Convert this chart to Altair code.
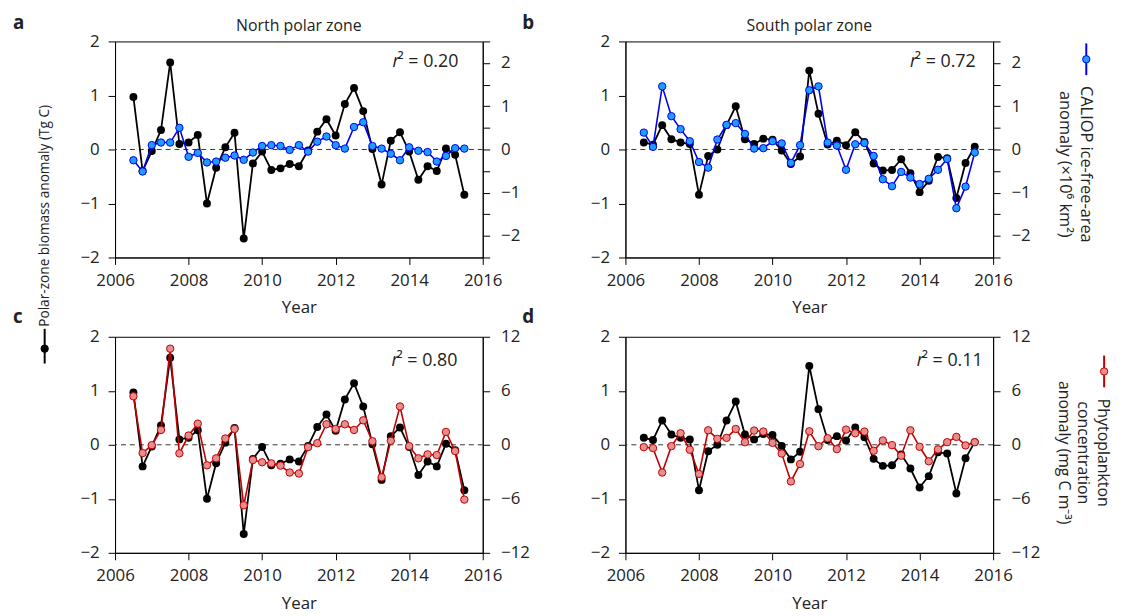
import altair as alt
import pandas as pd

FONT = "Open Sans"
TXT = "#222222"

# ---------------- data ----------------
years = [2006.5, 2006.75, 2007.0, 2007.25, 2007.5, 2007.75, 2008.0, 2008.25, 2008.5,
         2008.75, 2009.0, 2009.25, 2009.5, 2009.75, 2010.0, 2010.25, 2010.5, 2010.75,
         2011.0, 2011.25, 2011.5, 2011.75, 2012.0, 2012.25, 2012.5, 2012.75, 2013.0,
         2013.25, 2013.5, 2013.75, 2014.0, 2014.25, 2014.5, 2014.75, 2015.0, 2015.25,
         2015.5]

north_biomass = [0.97, -0.40, -0.03, 0.36, 1.61, 0.10, 0.13, 0.27, -1.00, -0.34, 0.04,
                 0.31, -1.65, -0.26, -0.04, -0.38, -0.35, -0.27, -0.31, -0.02, 0.33, 0.56,
                 0.26, 0.84, 1.14, 0.71, 0.01, -0.65, 0.16, 0.32, -0.04, -0.56, -0.31,
                 -0.40, 0.02, -0.10, -0.84]

north_ice = [-0.25, -0.51, 0.10, 0.16, 0.16, 0.50, -0.17, -0.08, -0.30, -0.28, -0.19,
             -0.14, -0.24, -0.07, 0.08, 0.10, 0.08, -0.01, 0.10, -0.05, 0.18, 0.30, 0.10,
             0.02, 0.52, 0.63, 0.08, 0.02, -0.10, -0.25, 0.05, -0.03, -0.06, -0.28, -0.15,
             0.03, 0.02]

north_phyto = [5.39, -0.92, -0.04, 1.65, 10.68, -0.95, 1.03, 2.35, -2.28, -1.50, 0.70,
               1.76, -6.72, -1.69, -1.94, -2.06, -2.31, -3.08, -3.19, -0.26, 0.18, 2.28,
               1.76, 2.28, 1.65, 2.72, 0.40, -3.60, 0.44, 4.26, -0.15, -1.50, -1.06, -1.14,
               1.43, -0.70, -6.09]

south_biomass = [0.13, 0.09, 0.45, 0.19, 0.13, 0.10, -0.84, -0.12, 0.00, 0.45, 0.80, 0.19,
                 0.10, 0.20, 0.18, -0.02, -0.27, -0.13, 1.46, 0.66, 0.09, 0.16, 0.08, 0.32,
                 0.14, -0.26, -0.39, -0.38, -0.18, -0.44, -0.79, -0.58, -0.14, -0.16, -0.90,
                 -0.25, 0.05]

south_ice = [0.39, 0.06, 1.46, 0.77, 0.47, 0.19, -0.29, -0.42, 0.23, 0.57, 0.61, 0.36,
             0.02, 0.03, 0.19, 0.14, -0.31, 0.10, 1.37, 1.46, 0.16, 0.09, -0.47, 0.12, 0.15,
             -0.15, -0.69, -0.85, -0.52, -0.65, -0.80, -0.68, -0.47, -0.22, -1.36, -0.86,
             -0.07]

south_phyto = [-0.26, -0.37, -3.08, -0.15, 1.28, -0.55, -3.23, 1.61, 0.66, 0.77, 1.76, 0.29,
               1.58, 1.47, 0.22, -0.97, -4.07, -2.13, 1.50, -0.15, 0.73, -0.48, 1.69, 1.28,
               1.47, -0.66, 0.48, -0.04, -1.21, 1.61, -0.22, -1.83, -0.51, 0.29, 0.88, -0.07,
               0.29]

x_ticks = [2006, 2008, 2010, 2012, 2014, 2016]
left_ticks = [-2, -1, 0, 1, 2]
ice_ticks = [-2.5, -2, -1.5, -1, -0.5, 0, 0.5, 1, 1.5, 2, 2.5]
phyto_ticks = [-12, -6, 0, 6, 12]

titles = ["North polar zone", "South polar zone"]
letters = ["a", "b", "c", "d"]
r2_values = ["0.20", "0.72", "0.80", "0.11"]

BLUE_LINE, BLUE_FILL = "#0000f0", "#1e9cff"
RED_LINE, RED_FILL = "#c00000", "#e58e8e"

W, H = 371, 218
one = pd.DataFrame({"k": [0]})


def txt(s, x, y, size=17, align="center", baseline="alphabetic", angle=None,
        weight="normal", style="normal"):
    kw = dict(text=s, align=align, baseline=baseline, fontSize=size, font=FONT,
              fontWeight=weight, fontStyle=style, color=TXT)
    if angle is not None:
        kw["angle"] = angle
    return alt.Chart(one).mark_text(**kw).encode(x=alt.value(x), y=alt.value(y))


def symbol(x, y1, y2, yd, line, fill):
    r = alt.Chart(one).mark_rule(color=line, strokeWidth=2).encode(
        x=alt.value(x), y=alt.value(y1), y2=alt.value(y2))
    p = alt.Chart(one).mark_point(filled=True, fill=fill, stroke=line, strokeWidth=1,
                                  size=55, opacity=1).encode(x=alt.value(x), y=alt.value(yd))
    return [r, p]


def panel(bio, sec, sec_domain, sec_ticks, sec_expr, line_col, fill_col, extras):
    df = pd.DataFrame({"t": years, "bio": bio, "sec": sec})
    x_enc = alt.X("t:Q", scale=alt.Scale(domain=[2006, 2016], nice=False, zero=False),
                  axis=alt.Axis(values=x_ticks, format="d", title="Year", labelFlush=False))
    left_scale = alt.Scale(domain=[-2, 2], nice=False, zero=False)
    left_axis = alt.Axis(orient="left", values=left_ticks, title=None, labelPadding=9,
                         labelFlush=False)
    zero = alt.Chart(pd.DataFrame({"z": [0]})).mark_rule(
        strokeDash=[5, 4], color="#333333", strokeWidth=1).encode(
        y=alt.Y("z:Q", scale=left_scale, axis=left_axis))
    black = alt.Chart(df).mark_line(
        color="black", strokeWidth=1.8,
        point=alt.OverlayMarkDef(filled=True, color="black", size=64, opacity=1)).encode(
        x=x_enc, y=alt.Y("bio:Q", scale=left_scale, axis=left_axis))
    right_axis = alt.Axis(orient="right", values=sec_ticks, title=None, labelPadding=11,
                          labelExpr=sec_expr, labelFlush=False, labelOverlap=False)
    second = alt.Chart(df).mark_line(
        color=line_col, strokeWidth=1.6,
        point=alt.OverlayMarkDef(filled=True, fill=fill_col, stroke=line_col,
                                 strokeWidth=1, size=56, opacity=1)).encode(
        x=x_enc, y=alt.Y("sec:Q", scale=alt.Scale(domain=sec_domain, nice=False, zero=False),
                         axis=right_axis))
    return alt.layer(alt.layer(zero, black), second, *extras).resolve_scale(
        y="independent").properties(width=W, height=H)


ice_expr = "abs(datum.value % 1) < 0.01 ? format(datum.value, 'd') : ''"
phy_expr = "format(datum.value, 'd')"

extras_a = [txt(letters[0], -103, -13, size=19, align="left", weight="bold"),
            txt(titles[0], W / 2, -11, size=16),
            txt("r", 280, 26, size=18, align="left", style="italic"),
            txt("\u00b2 = " + r2_values[0], 285, 26, size=18, align="left"),
            txt("Polar-zone biomass anomaly (Tg C)", -71, 176, size=13.8, angle=270,
                baseline="middle")]
extras_b = [txt(letters[1], -104, -13, size=19, align="left", weight="bold"),
            txt(titles[1], W / 2, -11, size=16),
            txt("r", 287, 26, size=18, align="left", style="italic"),
            txt("\u00b2 = " + r2_values[1], 292, 26, size=18, align="left"),
            txt("CALIOP ice-free-area", 465, 124, size=16.5, angle=90, baseline="middle"),
            txt("anomaly (\u00d710\u2076 km\u00b2)", 443, 124, size=16.5, angle=90,
                baseline="middle")] + symbol(465, 2, 34, 18, BLUE_LINE, BLUE_FILL)
extras_c = [txt(letters[2], -103, -14, size=19, align="left", weight="bold"),
            txt("r", 279, 29, size=18, align="left", style="italic"),
            txt("\u00b2 = " + r2_values[2], 284, 29, size=18, align="left")] + \
    symbol(-71, -8, 27, 12, "black", "black")
extras_d = [txt(letters[3], -104, -14, size=19, align="left", weight="bold"),
            txt("r", 294, 29, size=18, align="left", style="italic"),
            txt("\u00b2 = " + r2_values[3], 299, 29, size=18, align="left"),
            txt("Phytoplankton", 482, 117, size=16, angle=90, baseline="middle"),
            txt("concentration", 462, 117, size=16, angle=90, baseline="middle"),
            txt("anomaly (mg C m\u207b\u00b3)", 442, 117, size=16, angle=90,
                baseline="middle")] + symbol(483, 19, 51, 35, RED_LINE, RED_FILL)

pa = panel(north_biomass, north_ice, [-2.5, 2.5], ice_ticks, ice_expr, BLUE_LINE, BLUE_FILL, extras_a)
pb = panel(south_biomass, south_ice, [-2.5, 2.5], ice_ticks, ice_expr, BLUE_LINE, BLUE_FILL, extras_b)
pc = panel(north_biomass, north_phyto, [-12, 12], phyto_ticks, phy_expr, RED_LINE, RED_FILL, extras_c)
pd_ = panel(south_biomass, south_phyto, [-12, 12], phyto_ticks, phy_expr, RED_LINE, RED_FILL, extras_d)

chart = alt.concat(pa, pb, pc, pd_, columns=2,
                   spacing=alt.RowColnumber(row=80, column=144),
                   bounds="flush").properties(
    padding={"left": 4, "top": 2, "right": 6, "bottom": 0},
    background="white",
).configure_view(stroke="black", strokeWidth=1).configure_axis(
    labelFont=FONT, labelFontSize=17, labelColor=TXT, titleFont=FONT, titleFontSize=17,
    titleFontWeight="normal", titleColor=TXT, tickColor="black", domainColor="black",
    tickSize=7, grid=False, domainWidth=1, tickWidth=1,
).configure_axisX(labelPadding=8, titlePadding=12)

chart.save("out.html", embed_options={"renderer": "svg", "actions": False})
